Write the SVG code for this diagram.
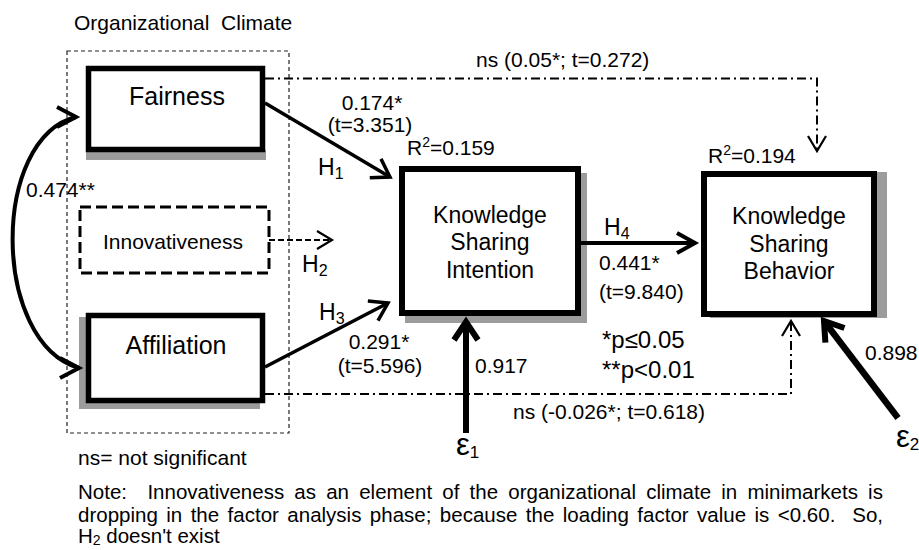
<svg xmlns="http://www.w3.org/2000/svg" width="919" height="550" viewBox="0 0 919 550">
<style>
.t{font-family:"Liberation Sans",Arial,sans-serif;fill:#000}
.s21{font-size:21px}
.box{fill:#fff;stroke:#000}
.shadow{fill:#9c9c9c}
.dd{fill:none;stroke:#000;stroke-width:2;stroke-dasharray:9 4 2 4}
.ln{fill:none;stroke:#000}
</style>
<defs>
<marker id="chevS" markerUnits="userSpaceOnUse" viewBox="-20 -14 24 28" refX="0" refY="0" markerWidth="24" markerHeight="28" orient="auto" overflow="visible">
<path d="M-15,-9 L0,0 L-15,9" fill="none" stroke="#000" stroke-width="2.2"/>
</marker>
<marker id="chevM" markerUnits="userSpaceOnUse" viewBox="-24 -16 28 32" refX="0" refY="0" markerWidth="28" markerHeight="32" orient="auto" overflow="visible">
<path d="M-17,-11 L0,0 L-17,11" fill="none" stroke="#000" stroke-width="3.5"/>
</marker>
<marker id="chevH" markerUnits="userSpaceOnUse" viewBox="-24 -16 28 32" refX="0" refY="0" markerWidth="28" markerHeight="32" orient="auto" overflow="visible">
<path d="M-18,-10 L0,0 L-18,10" fill="none" stroke="#000" stroke-width="4"/>
</marker>
<marker id="chevL" markerUnits="userSpaceOnUse" viewBox="-26 -18 30 36" refX="0" refY="0" markerWidth="30" markerHeight="36" orient="auto" overflow="visible">
<path d="M-18,-12 L0,0 L-18,12" fill="none" stroke="#000" stroke-width="6"/>
</marker>
<marker id="chevC" markerUnits="userSpaceOnUse" viewBox="-24 -14 28 28" refX="0" refY="0" markerWidth="28" markerHeight="28" orient="0" overflow="visible">
<path d="M-19,-10 L0,0 L-19,10" fill="none" stroke="#000" stroke-width="4"/>
</marker>
</defs>

<rect width="919" height="550" fill="#fff"/>

<g id="org-climate">
<rect x="67" y="51" width="222" height="382" fill="none" stroke="#222" stroke-width="1.2" stroke-dasharray="4 3"/>
<text class="t s21" x="74" y="30" xml:space="preserve">Organizational  Climate</text>
</g>

<g id="fairness">
<rect class="shadow" x="86" y="150" width="180" height="10"/>
<rect class="box" x="88.5" y="68.5" width="174" height="81" stroke-width="5.5"/>
<text class="t" x="177" y="105" font-size="25" text-anchor="middle">Fairness</text>
</g>

<g id="innovativeness">
<rect x="80" y="207" width="189" height="66" fill="none" stroke="#000" stroke-width="3" stroke-dasharray="11 5"/>
<text class="t" x="173" y="249" font-size="21" text-anchor="middle">Innovativeness</text>
</g>

<g id="affiliation">
<rect class="shadow" x="79" y="317" width="181" height="92"/>
<rect class="box" x="88.5" y="315.5" width="174" height="85" stroke-width="5.5"/>
<text class="t" x="176" y="354" font-size="25" text-anchor="middle">Affiliation</text>
</g>

<g id="ksi">
<rect class="shadow" x="405" y="173" width="182" height="150"/>
<rect class="box" x="402" y="169" width="176" height="144" stroke-width="6"/>
<text class="t" x="490" y="223" font-size="23" text-anchor="middle">Knowledge</text>
<text class="t" x="490" y="250" font-size="23" text-anchor="middle">Sharing</text>
<text class="t" x="490" y="278" font-size="23" text-anchor="middle">Intention</text>
<text class="t s21" x="407" y="155">R<tspan font-size="14" dy="-8">2</tspan><tspan dy="8">=0.159</tspan></text>
</g>

<g id="ksb">
<rect class="shadow" x="710" y="172" width="177" height="146"/>
<rect class="box" x="704" y="174" width="170" height="140" stroke-width="6"/>
<text class="t" x="789" y="224" font-size="23" text-anchor="middle">Knowledge</text>
<text class="t" x="789" y="252" font-size="23" text-anchor="middle">Sharing</text>
<text class="t" x="789" y="279" font-size="23" text-anchor="middle">Behavior</text>
<text class="t s21" x="708" y="163">R<tspan font-size="14" dy="-8">2</tspan><tspan dy="8">=0.194</tspan></text>
</g>

<g id="e1">
<text class="t" x="456" y="455" font-size="31">ε<tspan font-size="17" dy="3">1</tspan></text>
</g>
<g id="e2">
<text class="t" x="896" y="447" font-size="31">ε<tspan font-size="17" dy="3">2</tspan></text>
</g>

<g id="connectors">
<path class="dd" d="M265,78.5 H817 V151" marker-end="url(#chevS)"/>
<path class="dd" d="M265,394 H791 V321" marker-end="url(#chevS)"/>
<path class="ln" d="M269,240 H332" stroke-width="2" stroke-dasharray="6 3" marker-end="url(#chevS)"/>
<path class="ln" d="M265,103 L390,177" stroke-width="3.5" marker-end="url(#chevM)"/>
<path class="ln" d="M265,367 L388,303" stroke-width="3.5" marker-end="url(#chevM)"/>
<path class="ln" d="M581,243 H695" stroke-width="4" marker-end="url(#chevH)"/>
<path class="ln" d="M466,433 V322" stroke-width="6" marker-end="url(#chevL)"/>
<path class="ln" d="M898,418 L824,321" stroke-width="6.5" marker-end="url(#chevL)"/>
<path class="ln" d="M76,117 C-9,138 -9,342 79,368" stroke-width="4" marker-start="url(#chevC)" marker-end="url(#chevC)"/>
</g>

<g id="labels">
<text class="t s21" x="26" y="197">0.474**</text>
<text class="t s21" x="476" y="67">ns (0.05*; t=0.272)</text>
<text class="t s21" x="372" y="110" text-anchor="middle">0.174*</text>
<text class="t s21" x="370" y="132" text-anchor="middle">(t=3.351)</text>
<text class="t" x="318" y="175" font-size="23">H<tspan font-size="16" dy="4">1</tspan></text>
<text class="t" x="302" y="272" font-size="23">H<tspan font-size="16" dy="4">2</tspan></text>
<text class="t" x="319" y="320" font-size="23">H<tspan font-size="16" dy="4">3</tspan></text>
<text class="t" x="604" y="235" font-size="23">H<tspan font-size="16" dy="4">4</tspan></text>
<text class="t s21" x="379" y="349" text-anchor="middle">0.291*</text>
<text class="t s21" x="380" y="373" text-anchor="middle">(t=5.596)</text>
<text class="t s21" x="599" y="270">0.441*</text>
<text class="t s21" x="599" y="299">(t=9.840)</text>
<text class="t" x="602" y="348" font-size="24">*p≤0.05</text>
<text class="t" x="602" y="378" font-size="24">**p&lt;0.01</text>
<text class="t s21" x="475" y="373">0.917</text>
<text class="t s21" x="513" y="419">ns (-0.026*; t=0.618)</text>
<text class="t s21" x="865" y="360">0.898</text>
<text class="t s21" x="78" y="465">ns= not significant</text>
</g>

<g id="note">
<text class="t" x="78" y="499" font-size="20.5" word-spacing="4.5" xml:space="preserve">Note:  Innovativeness as an element of the organizational climate in minimarkets is</text>
<text class="t" x="78" y="522" font-size="20.5" word-spacing="2.76" xml:space="preserve">dropping in the factor analysis phase; because the loading factor value is &lt;0.60.  So,</text>
<text class="t" x="78" y="543" font-size="20.5">H<tspan font-size="14" dy="2">2</tspan><tspan dy="-2"> doesn't exist</tspan></text>
</g>
</svg>
